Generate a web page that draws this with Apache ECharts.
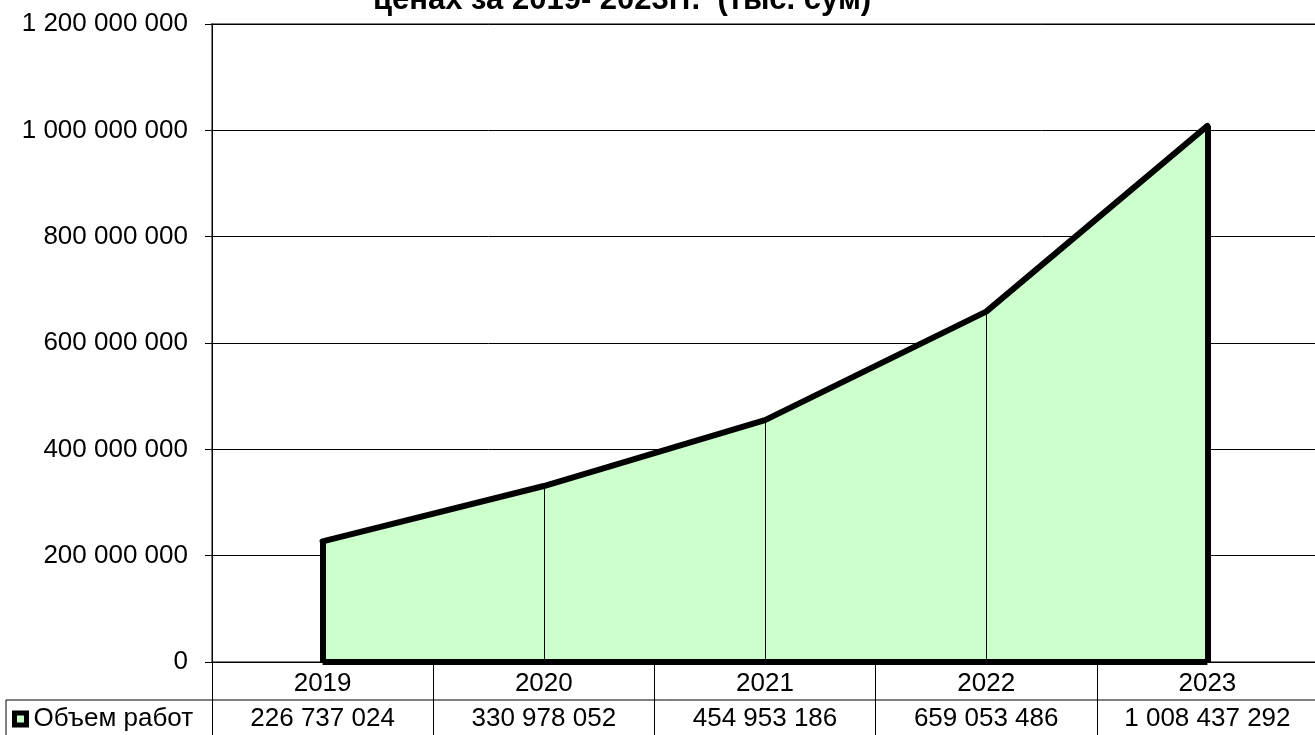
<!DOCTYPE html>
<html>
<head>
<meta charset="utf-8">
<script src="https://cdn.jsdelivr.net/npm/echarts@6/dist/echarts.min.js"></script>
<style>html,body{margin:0;padding:0;background:#fff;overflow:hidden;width:1315px;height:735px}#c{width:1325px;height:735px}</style>
</head>
<body>
<div id="c"></div>
<script>
const categories = ['2019', '2020', '2021', '2022', '2023'];
const volumeValues = [226737024, 330978052, 454953186, 659053486, 1008437292];
const seriesName = 'Объем работ';
const titleText = 'ценах за 2019- 2023гг.  (тыс. сум)';

function fmt(v) { return String(v).replace(/\B(?=(\d{3})+(?!\d))/g, ' '); }

const FONT = '"Liberation Sans", Arial, sans-serif';
const chart = echarts.init(document.getElementById('c'));
const last = categories.length - 1;

const thick = { width: 6, color: '#000', type: 'solid' };
const thin = { width: 1, color: '#000', type: 'solid' };
const markData = [
  [{ coord: [categories[0], 0], lineStyle: thick }, { coord: [categories[0], volumeValues[0]] }],
  [{ coord: [categories[last], 0], lineStyle: thick }, { coord: [categories[last], volumeValues[last]] }],
  [{ coord: [categories[0], 0], lineStyle: thick }, { coord: [categories[last], 0] }]
];
for (let i = 1; i < last; i++) {
  markData.push([{ coord: [categories[i], 0], lineStyle: thin }, { coord: [categories[i], volumeValues[i]] }]);
}

chart.setOption({
  animation: false,
  backgroundColor: '#fff',
  title: {
    text: titleText,
    left: 368,
    top: -20,
    textStyle: { fontFamily: FONT, fontSize: 31, fontWeight: 'bold', color: '#000' }
  },
  legend: {
    left: 12,
    top: 703,
    icon: 'rect',
    itemWidth: 12,
    itemHeight: 12,
    itemGap: 8,
    padding: [3, 0, 3, 0],
    textStyle: { fontFamily: FONT, fontSize: 26, color: '#000', padding: [0, 0, 0, 2] },
    itemStyle: { color: '#CCFFCC', borderColor: '#000', borderWidth: 5 },
    data: [seriesName]
  },
  grid: {
    left: 212, top: 24, width: 1106, height: 638,
    show: true, borderColor: '#808080', borderWidth: 2, backgroundColor: 'transparent'
  },
  xAxis: {
    type: 'category',
    data: categories,
    boundaryGap: true,
    axisLine: { lineStyle: { color: '#000', width: 1 } },
    axisTick: { show: true, interval: 0, length: 73, lineStyle: { color: '#000', width: 1 } },
    axisLabel: {
      interval: 0,
      margin: 4,
      formatter: function (val, idx) { return '{a|' + val + '}\n{b|' + fmt(volumeValues[idx]) + '}'; },
      rich: {
        a: { fontFamily: FONT, fontSize: 26, color: '#000', lineHeight: 35 },
        b: { fontFamily: FONT, fontSize: 26, color: '#000', lineHeight: 35 }
      }
    },
    splitLine: { show: false }
  },
  yAxis: {
    type: 'value',
    min: 0, max: 1200000000, interval: 200000000,
    axisLine: { show: true, lineStyle: { color: '#000', width: 1 } },
    axisTick: { show: true, length: 7, lineStyle: { color: '#000' } },
    axisLabel: { margin: 24, fontFamily: FONT, fontSize: 26, color: '#000', formatter: fmt },
    splitLine: { show: true, lineStyle: { color: '#000', width: 1 } }
  },
  graphic: [
    { type: 'line', shape: { x1: 6, y1: 700, x2: 1325, y2: 700 }, style: { stroke: '#000', lineWidth: 1 }, z: 10 },
    { type: 'line', shape: { x1: 6, y1: 700, x2: 6, y2: 735 }, style: { stroke: '#000', lineWidth: 1 }, z: 10 }
  ],
  series: [{
    name: seriesName,
    type: 'line',
    data: volumeValues,
    symbol: 'none',
    lineStyle: { color: '#000', width: 6, join: 'round', cap: 'round' },
    itemStyle: { color: '#CCFFCC', borderColor: '#000' },
    areaStyle: { color: '#CCFFCC', opacity: 1 },
    markLine: {
      silent: true,
      symbol: ['none', 'none'],
      label: { show: false },
      lineStyle: { type: 'solid' },
      data: markData
    },
    z: 3
  }]
});
</script>
</body>
</html>
